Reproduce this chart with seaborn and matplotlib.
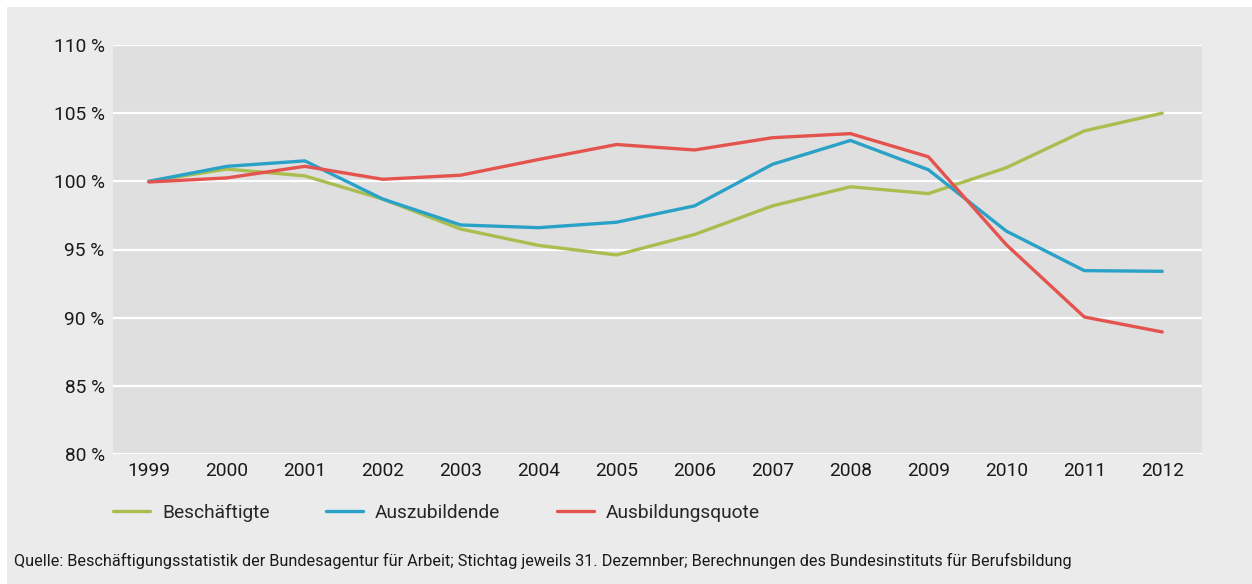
import matplotlib
matplotlib.use("Agg")
import matplotlib.pyplot as plt
import seaborn as sns
import pandas as pd
from matplotlib.ticker import FixedLocator, FuncFormatter

years = [1999, 2000, 2001, 2002, 2003, 2004, 2005, 2006, 2007, 2008, 2009, 2010, 2011, 2012]
beschaeftigte = [100.0, 100.9, 100.4, 98.7, 96.5, 95.3, 94.6, 96.1, 98.2, 99.6, 99.1, 101.0, 103.7, 105.0]
auszubildende = [100.0, 101.1, 101.5, 98.7, 96.8, 96.6, 97.0, 98.2, 101.25, 103.0, 100.85, 96.35, 93.45, 93.4]
ausbildungsquote = [99.95, 100.25, 101.1, 100.15, 100.45, 101.6, 102.7, 102.3, 103.2, 103.5, 101.8, 95.35, 90.05, 88.95]
series_names = ["Beschäftigte", "Auszubildende", "Ausbildungsquote"]
y_ticks = [80, 85, 90, 95, 100, 105, 110]
source_text = ("Quelle: Beschäftigungsstatistik der Bundesagentur für Arbeit; Stichtag jeweils 31. Dezemnber; "
               "Berechnungen des Bundesinstituts für Berufsbildung")

colors = ["#A9BE4F", "#2AA2C8", "#E4544F"]

df = pd.DataFrame({
    "Jahr": years * 3,
    "Wert": beschaeftigte + auszubildende + ausbildungsquote,
    "Reihe": [series_names[0]] * len(years) + [series_names[1]] * len(years) + [series_names[2]] * len(years),
})

sns.set_theme(style="white")
plt.rcParams["font.family"] = ["Roboto", "DejaVu Sans"]

W, H = 1252, 584
fig = plt.figure(figsize=(W / 100, H / 100), dpi=100, facecolor="white")
fig.patches.append(plt.Rectangle((7 / W, 0), 1 - 7 / W, 1 - 7 / H, transform=fig.transFigure,
                                 facecolor="#EBEBEB", edgecolor="none", zorder=-10))

ax = fig.add_axes([113 / W, 1 - 454 / H, (1202 - 113) / W, (454 - 45) / H])
ax.set_facecolor("#DFDFDF")

sns.lineplot(data=df, x="Jahr", y="Wert", hue="Reihe", palette=colors, hue_order=series_names,
             linewidth=2.4, ax=ax, legend=True)

ax.set_xlim(1998.54, 2012.51)
ax.set_ylim(80, 110)
ax.yaxis.set_major_locator(FixedLocator(y_ticks))
ax.yaxis.set_major_formatter(FuncFormatter(lambda v, p: f"{int(v)} %"))
ax.xaxis.set_major_locator(FixedLocator(years))
ax.grid(axis="y", color="white", linewidth=1.6)
ax.grid(axis="x", visible=False)
ax.set_axisbelow(True)
for s in ax.spines.values():
    s.set_visible(False)
ax.tick_params(axis="both", length=0, labelsize=13.8, colors="#1a1a1a")
ax.tick_params(axis="y", pad=6)
ax.tick_params(axis="x", pad=6)
ax.set_xlabel("")
ax.set_ylabel("")

handles, labels = ax.get_legend_handles_labels()
ax.legend(handles, labels, ncol=3, loc="center left", bbox_to_anchor=(113 / W, 1 - 513 / H),
          bbox_transform=fig.transFigure, frameon=False, fontsize=13.8, handlelength=1.95,
          handletextpad=0.6, columnspacing=2.95, borderpad=0, borderaxespad=0)

fig.text(14 / W, 1 - 561 / H, source_text, fontsize=11.7, color="#1a1a1a", va="center", ha="left")

fig.savefig("out.png", dpi=100, facecolor=fig.get_facecolor())
